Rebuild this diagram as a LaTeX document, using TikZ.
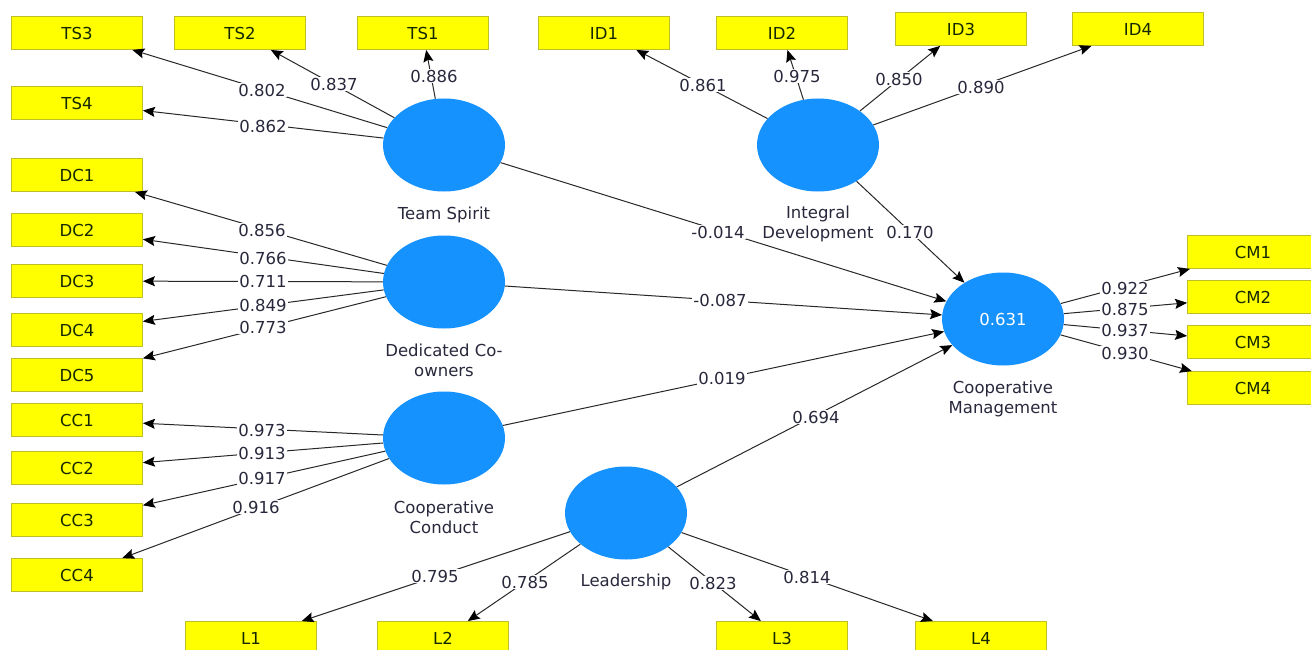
\documentclass[tikz,border=0pt]{standalone}
\usepackage{fontspec}
\setmainfont{DejaVu Sans}
\usetikzlibrary{shapes.geometric,arrows.meta}
\definecolor{boxy}{RGB}{255,255,0}
\definecolor{boxline}{RGB}{190,190,40}
\definecolor{lv}{RGB}{22,146,255}
\definecolor{edgec}{RGB}{40,40,40}
\definecolor{txt}{RGB}{40,40,60}
\definecolor{boxtxt}{RGB}{20,40,0}
\begin{document}
\begin{tikzpicture}[x=1pt,y=-1pt,
 ind/.style={draw=boxline,fill=boxy,line width=0.8pt,minimum width=131pt,minimum height=33pt,inner sep=0pt,font=\fontsize{16.5}{18}\selectfont,text=boxtxt},
 lat/.style={ellipse,fill=lv,minimum width=122pt,minimum height=93pt,inner sep=0pt,font=\fontsize{16.5}{18}\selectfont,text=white},
 con/.style={draw=edgec,line width=1pt,-{Stealth[length=12pt,width=10pt,inset=2pt,color=black]}},
 val/.style={fill=white,inner sep=1pt,font=\fontsize{16.5}{18}\selectfont,text=txt},
 lvcap/.style={font=\fontsize{16.5}{20}\selectfont,text=txt,align=center}]
\useasboundingbox (0,0) rectangle (1311,650);
\clip (0,0) rectangle (1311,650);
\fill[white] (0,0) rectangle (1311,650);

% indicators
\node[ind] (TS3) at (77,33) {TS3};
\node[ind] (TS2) at (240,33) {TS2};
\node[ind] (TS1) at (423,33) {TS1};
\node[ind] (TS4) at (77,103) {TS4};
\node[ind] (DC1) at (77,175) {DC1};
\node[ind] (DC2) at (77,230) {DC2};
\node[ind] (DC3) at (77,281) {DC3};
\node[ind] (DC4) at (77,330) {DC4};
\node[ind] (DC5) at (77,375) {DC5};
\node[ind] (CC1) at (77,420) {CC1};
\node[ind] (CC2) at (77,468) {CC2};
\node[ind] (CC3) at (77,520) {CC3};
\node[ind] (CC4) at (77,575) {CC4};
\node[ind] (L1) at (251,638) {L1};
\node[ind] (L2) at (443,638) {L2};
\node[ind] (L3) at (782,638) {L3};
\node[ind] (L4) at (981,638) {L4};
\node[ind] (ID1) at (604,33) {ID1};
\node[ind] (ID2) at (782,33) {ID2};
\node[ind] (ID3) at (961,29) {ID3};
\node[ind] (ID4) at (1138,29) {ID4};
\node[ind] (CM1) at (1253,252) {CM1};
\node[ind] (CM2) at (1253,297) {CM2};
\node[ind] (CM3) at (1253,342) {CM3};
\node[ind] (CM4) at (1253,388) {CM4};

% latent variables
\node[lat] (ts) at (444,145) {};
\node[lat] (dc) at (444,282) {};
\node[lat] (cc) at (444,438) {};
\node[lat] (id) at (818,145) {};
\node[lat] (ld) at (626,513) {};
\node[lat] (cm) at (1003,319) {0.631};

% captions
\node[lvcap] (tsc) at (444,215) {Team Spirit};
\node[lvcap] (dcc) at (444,360) {Dedicated Co-\\owners};
\node[lvcap] (ccc) at (444,517) {Cooperative\\Conduct};
\node[lvcap] (idc) at (818,224) {Integral\\Development};
\node[lvcap] (cmc) at (1003,399) {Cooperative\\Management};
\node[lvcap] (ldc) at (626,582) {Leadership};

% connectors
\foreach \a/\b in {ts/TS3,ts/TS2,ts/TS1,ts/TS4,
  dc/DC1,dc/DC2,dc/DC3,dc/DC4,dc/DC5,
  cc/CC1,cc/CC2,cc/CC3,cc/CC4,
  ld/L1,ld/L2,ld/L3,ld/L4,
  id/ID1,id/ID2,id/ID3,id/ID4,
  cm/CM1,cm/CM2,cm/CM3,cm/CM4,
  ts/cm,dc/cm,cc/cm,id/cm,ld/cm}
  \draw[con] (\a) -- (\b);

% values
\node[val] (v1) at (262,90) {0.802};
\node[val] (v2) at (334,84) {0.837};
\node[val] (v3) at (434,76) {0.886};
\node[val] (v4) at (263,126) {0.862};
\node[val] (v5) at (262,230) {0.856};
\node[val] (v6) at (263,258) {0.766};
\node[val] (v7) at (263,281) {0.711};
\node[val] (v8) at (263,305) {0.849};
\node[val] (v9) at (263,327) {0.773};
\node[val] (v10) at (262,430) {0.973};
\node[val] (v11) at (262,453) {0.913};
\node[val] (v12) at (262,478) {0.917};
\node[val] (v13) at (256,507) {0.916};
\node[val] (v14) at (435,576) {0.795};
\node[val] (v15) at (525,582) {0.785};
\node[val] (v16) at (713,583) {0.823};
\node[val] (v17) at (807,577) {0.814};
\node[val] (v18) at (816,417) {0.694};
\node[val] (v19) at (722,378) {0.019};
\node[val] (v20) at (720,300) {-0.087};
\node[val] (v21) at (718,232) {-0.014};
\node[val] (v22) at (910,232) {0.170};
\node[val] (v23) at (703,85) {0.861};
\node[val] (v24) at (797,76) {0.975};
\node[val] (v25) at (899,79) {0.850};
\node[val] (v26) at (981,87) {0.890};
\node[val] (v27) at (1125,288) {0.922};
\node[val] (v28) at (1125,309) {0.875};
\node[val] (v29) at (1125,330) {0.937};
\node[val] (v30) at (1125,353) {0.930};
\end{tikzpicture}
\end{document}
